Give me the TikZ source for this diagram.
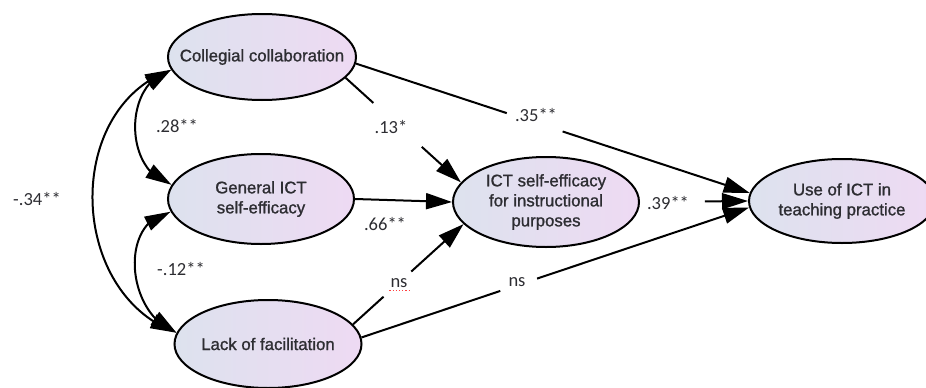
\documentclass[tikz,border=0pt]{standalone}
\usepackage{fontspec}
\setmainfont{Liberation Sans}
\newfontfamily\nodefont{Liberation Sans}[FakeBold=1.2]
\newfontfamily\lblfont{Carlito}
\usetikzlibrary{arrows.meta,bending,shapes.geometric}
\definecolor{lblue}{RGB}{221,226,238}
\definecolor{lpink}{RGB}{238,218,243}
\definecolor{txt}{RGB}{45,45,50}
\begin{document}
\begin{tikzpicture}[x=1pt,y=1pt,
  latent/.style={ellipse, draw=black, line width=2pt, left color=lblue, right color=lpink, inner sep=0pt},
  ltxt/.style={text=txt, align=center, font=\nodefont\fontsize{16.8}{20}\selectfont},
  plain/.style={line width=2pt},
  conn/.style={line width=2pt, -{Triangle[length=26pt,width=16pt]}},
  cov/.style={line width=2pt, {Triangle[length=26pt,width=15pt]}-{Triangle[length=26pt,width=15pt]}},
  lbl/.style={font=\lblfont\fontsize{18.5}{20}\selectfont, text=txt, inner sep=1pt}]
\useasboundingbox (0,0) rectangle (926,-388);
% latent variables
\node[latent, minimum width=188pt, minimum height=86pt, label={[ltxt]center:Collegial collaboration}] (cc) at (262,-57) {};
\node[latent, minimum width=186pt, minimum height=90pt, label={[ltxt]center:{General ICT\\self-efficacy}}] (gen) at (261,-199) {};
\node[latent, minimum width=187pt, minimum height=88pt, label={[ltxt]center:Lack of facilitation}] (lack) at (268,-344) {};
\node[latent, minimum width=186pt, minimum height=90pt, label={[ltxt]center:{ICT self-efficacy\\for instructional\\purposes}}] (ise) at (546,-202) {};
\node[latent, minimum width=186pt, minimum height=84pt, label={[ltxt]center:{Use of ICT in\\teaching practice}}] (use) at (842,-201) {};
% labels
\node[lbl] (l35) at (536,-115) {.35**};
\node[lbl] (l13) at (391,-127) {.13*};
\node[lbl] (l66) at (385,-224) {.66**};
\node[lbl] (lns1) at (399,-283) {ns};
\node[lbl] (l39) at (668,-203) {.39**};
\node[lbl] (lns2) at (517,-282) {ns};
\node[lbl] (l28) at (177,-126) {.28**};
\node[lbl] (l12) at (181,-269) {-.12**};
\node[lbl] (l34) at (37,-199) {-.34**};
\draw[red!75, dotted, line width=1.2pt] ([yshift=-2pt]lns1.south west) -- ([yshift=-2pt]lns1.south east);
% paths
\path (cc.-4) -- (use.175) coordinate[pos=0.383] (a1) coordinate[pos=0.525] (a2);
\draw[plain] (cc.-4) -- (a1);
\draw[conn] (a2) -- (use.175);
\path (cc.-14) -- (ise.167) coordinate[pos=0.24] (b1) coordinate[pos=0.66] (b2);
\draw[plain] (cc.-14) -- (b1);
\draw[conn] (b2) -- (ise.167);
\draw[conn] (gen.east) -- (ise.west);
\path (lack.13) -- (ise.195) coordinate[pos=0.276] (c1) coordinate[pos=0.527] (c2);
\draw[plain] (lack.13) -- (c1);
\draw[conn] (c2) -- (ise.195);
\path (lack.4) -- (use.184) coordinate[pos=0.358] (d1) coordinate[pos=0.453] (d2);
\draw[plain] (lack.4) -- (d1);
\draw[conn] (d2) -- (use.184);
\path (ise.east) -- (use.180) coordinate[pos=0.6] (e1);
\draw[conn] (e1) -- (use.180);
% covariances
\draw[cov] (cc.188) to[out=195, in=165, looseness=1.11] (gen.171);
\draw[cov] (gen.188) to[out=190, in=160, looseness=1.13] (lack.173);
\draw[cov] (cc.188) to[out=200, in=160, looseness=1.12] (lack.173);
\end{tikzpicture}
\end{document}
